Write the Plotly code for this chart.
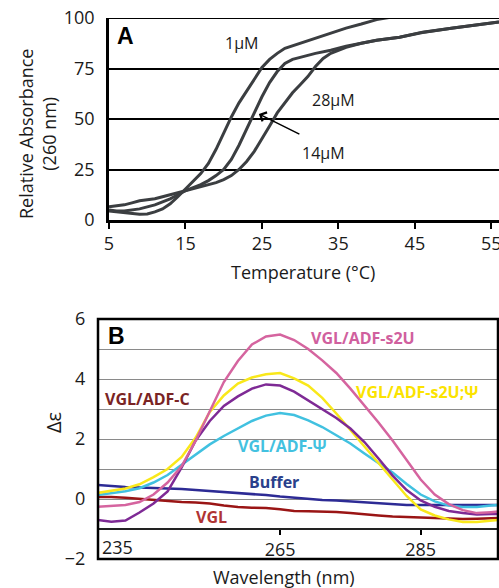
import plotly.graph_objects as go

# ---------------- Panel A data (Temperature °C, Relative absorbance) ----------------
T_1uM = [5, 6, 7, 8, 9, 10, 11, 12, 13, 14, 15, 16, 17, 18, 19, 20, 21, 22, 23, 24, 25,
         26, 27, 28, 30, 32, 34, 36, 38, 40, 42, 45, 50, 56]
A_1uM = [4.5, 4, 3.5, 3, 2.8, 3, 4, 5.5, 8, 11.5, 15.5, 19.5, 23, 28, 35, 43, 51, 58, 64, 70, 75.5,
         79.5, 82.5, 85, 87.5, 90, 92.5, 95, 97, 99.2, 100.5, 101, 102, 103]

T_14uM = [5, 6, 7, 8, 9, 10, 11, 12, 13, 14, 15, 16, 17, 18, 19, 20, 21, 22, 23, 24, 25,
          26, 27, 28, 29, 30, 32, 34, 36, 38, 40, 43, 46, 50, 53, 56]
A_14uM = [5, 4.5, 4.5, 5, 5.5, 6.5, 7.5, 9, 10.5, 12.5, 14.5, 16, 17.5, 19.5, 22, 25, 30, 37, 45, 53, 61,
          68, 73.5, 77.5, 79.5, 80.5, 82.5, 84, 86, 87.5, 89, 90.5, 93, 95, 96.5, 98]

T_28uM = [5, 6, 7, 8, 9, 10, 11, 12, 13, 14, 15, 16, 17, 18, 19, 20, 21, 22, 23, 24, 25,
          26, 27, 28, 29, 30, 31, 32, 33, 34, 36, 38, 40, 43, 46, 50, 53, 56]
A_28uM = [6.5, 7, 7.5, 8.5, 9.5, 10, 10.5, 11.5, 12.5, 13.5, 14.5, 15.5, 16.5, 17.5, 18.5, 20, 22, 25, 29, 34, 40,
          46.5, 53, 58, 63, 67, 71, 76, 80, 82.5, 85.5, 87.5, 89, 90.5, 92.8, 95, 96.5, 98]

A_xticks = [5, 15, 25, 35, 45, 55]
A_yticks = [0, 25, 50, 75, 100]

# ---------------- Panel B data (Wavelength nm, Δε) ----------------
wavelength = [239, 241, 243, 245, 247, 249, 251, 253, 255, 257, 259, 261, 263, 265, 267,
              269, 271, 273, 275, 277, 279, 281, 283, 285, 287, 289, 291, 293, 295, 296]
s2U = [-0.26, -0.23, -0.2, -0.1, 0.15, 0.55, 1.1, 1.95, 2.95, 3.9, 4.6, 5.15, 5.42, 5.48, 5.3,
       5.0, 4.62, 4.2, 3.68, 3.13, 2.55, 1.95, 1.3, 0.65, 0.15, -0.17, -0.37, -0.47, -0.44, -0.42]
s2U_psi = [0.2, 0.28, 0.35, 0.49, 0.73, 1.0, 1.4, 2.05, 2.9, 3.45, 3.85, 4.05, 4.16, 4.2, 4.02,
           3.78, 3.37, 2.85, 2.3, 1.72, 1.2, 0.65, 0.1, -0.35, -0.55, -0.68, -0.77, -0.77, -0.72, -0.7]
adf_C = [-0.7, -0.76, -0.72, -0.45, -0.15, 0.25, 1.05, 1.95, 2.6, 3.1, 3.42, 3.68, 3.82, 3.78, 3.58,
         3.28, 3.0, 2.7, 2.35, 1.9, 1.35, 0.78, 0.3, -0.05, -0.26, -0.4, -0.47, -0.52, -0.5, -0.5]
adf_psi = [0.13, 0.2, 0.26, 0.36, 0.55, 0.8, 1.15, 1.48, 1.82, 2.1, 2.35, 2.6, 2.78, 2.87, 2.8,
           2.62, 2.4, 2.13, 1.85, 1.52, 1.2, 0.88, 0.5, 0.15, -0.08, -0.22, -0.27, -0.27, -0.22, -0.2]
buffer = [0.47, 0.43, 0.4, 0.38, 0.37, 0.36, 0.33, 0.3, 0.27, 0.23, 0.2, 0.16, 0.13, 0.08, 0.04,
          0.0, -0.03, -0.05, -0.08, -0.1, -0.13, -0.17, -0.2, -0.2, -0.2, -0.2, -0.2, -0.2, -0.2, -0.2]
vgl = [0.07, 0.07, 0.04, 0.0, -0.03, -0.07, -0.1, -0.12, -0.15, -0.22, -0.27, -0.29, -0.3, -0.34, -0.4,
       -0.41, -0.42, -0.43, -0.47, -0.52, -0.55, -0.58, -0.6, -0.62, -0.63, -0.65, -0.67, -0.66, -0.63, -0.63]

B_xticks = [235, 265, 285]
B_yticks = [-2, 0, 2, 4, 6]

W, H = 499, 588
def px(x):
    return x / W
def py(y):
    return 1 - y / H

FONT = "Open Sans"
fig = go.Figure()

curve_col = "#3b3e41"
for T, A in [(T_28uM, A_28uM), (T_14uM, A_14uM), (T_1uM, A_1uM)]:
    fig.add_trace(go.Scatter(x=T, y=A, mode="lines", line=dict(color=curve_col, width=3),
                             xaxis="x", yaxis="y", showlegend=False, hoverinfo="skip"))

series_B = [
    (buffer, "#2d2b95"),
    (vgl, "#9a1515"),
    (adf_psi, "#41c1e0"),
    (s2U_psi, "#f9e81a"),
    (adf_C, "#7e2a95"),
    (s2U, "#d5649f"),
]
for vals, col in series_B:
    fig.add_trace(go.Scatter(x=wavelength, y=vals, mode="lines", line=dict(color=col, width=2.5),
                             xaxis="x2", yaxis="y2", showlegend=False, hoverinfo="skip"))

tickfont = dict(family=FONT, size=18, color="#1a1a1a")

yB_dom = [py(559), py(319)]
xaxis_B_pos = yB_dom[0] + (yB_dom[1] - yB_dom[0]) * (1 / 8)

fig.update_layout(
    width=W, height=H, margin=dict(l=0, r=0, t=0, b=0, pad=0),
    paper_bgcolor="white", plot_bgcolor="white",
    xaxis=dict(domain=[px(109), 1], range=[5, 56], tickvals=A_xticks,
               ticks="outside", ticklen=6, tickwidth=2, tickcolor="black",
               showline=True, linecolor="black", linewidth=2.5, showgrid=False, zeroline=False,
               tickfont=tickfont, anchor="y", automargin=False, ticklabeloverflow="allow"),
    yaxis=dict(domain=[py(220), py(18)], range=[0, 100], tickvals=A_yticks,
               ticks="outside", ticklen=8, tickcolor="rgba(0,0,0,0)",
               showline=True, linecolor="black", linewidth=2.5,
               showgrid=True, gridcolor="black", gridwidth=1.5, zeroline=False,
               tickfont=tickfont, anchor="x", automargin=False, ticklabeloverflow="allow"),
    xaxis2=dict(domain=[px(98), px(498)], range=[239.1, 296], tickvals=B_xticks[1:],
                ticks="outside", ticklen=5, tickwidth=1.5, tickcolor="black",
                showline=True, linecolor="#222", linewidth=1.5, showgrid=False, zeroline=False,
                tickfont=tickfont, anchor="free", position=xaxis_B_pos, automargin=False),
    yaxis2=dict(domain=yB_dom, range=[-2, 6], tickvals=B_yticks,
                ticks="outside", ticklen=8, tickcolor="rgba(0,0,0,0)",
                showline=False, showgrid=True, gridcolor="#8a8a8a", gridwidth=1,
                minor=dict(dtick=1, showgrid=True, gridcolor="#8a8a8a", gridwidth=1),
                zeroline=False, tickfont=tickfont, anchor="x2", automargin=False),
    shapes=[
        dict(type="line", xref="x domain", yref="y", x0=0, x1=1, y0=100, y1=100,
             line=dict(color="black", width=2)),
        dict(type="rect", xref="x2 domain", yref="y2 domain", x0=0, x1=1, y0=0, y1=1,
             line=dict(color="black", width=2.5)),
    ],
)

ann = []
def text(x, y, s, size=16, color="#1a1a1a", bold=False, angle=0, family=FONT):
    ann.append(dict(x=px(x), y=py(y), xref="paper", yref="paper", text=s, showarrow=False,
                    xanchor="center", yanchor="middle", textangle=angle,
                    font=dict(family=family, size=size, color=color,
                              weight="bold" if bold else "normal")))

# Panel A texts
text(126, 36, "A", size=23, bold=True, family="Liberation Sans", color="black")
text(241, 43, "1μM")
text(333, 100, "28μM")
text(323, 153, "14μM")
text(37, 134, "Relative Absorbance<br>(260 nm)", size=18, angle=-90)
text(303, 272, "Temperature (°C)", size=18)
ann.append(dict(x=24.6, y=52.5, xref="x", yref="y", ax=42, ay=21, showarrow=True,
                arrowhead=4, arrowsize=1.3, arrowwidth=1.5, arrowcolor="black", text=""))

# Panel B texts
text(116, 336, "B", size=23, bold=True, family="Liberation Sans", color="black")
text(117, 547, str(B_xticks[0]), size=18)
text(363, 338, "VGL/ADF-s2U", size=16, bold=True, color="#d0609e")
text(417, 392, "VGL/ADF-s2U;Ψ", size=16, bold=True, color="#fbe300")
text(147, 399, "VGL/ADF-C", size=16, bold=True, color="#7a2424")
text(282, 446, "VGL/ADF-Ψ", size=16, bold=True, color="#43c1e0")
text(274, 482, "Buffer", size=16, bold=True, color="#29408b")
text(211, 517, "VGL", size=16, bold=True, color="#b03434")
text(53, 423, "Δε", size=20, angle=-90)
text(284, 577, "Wavelength (nm)", size=18)

fig.update_layout(annotations=ann)
fig.write_html("out.html", config={"displayModeBar": False},
               post_script="document.body.style.margin='0';document.body.style.overflow='hidden';")
